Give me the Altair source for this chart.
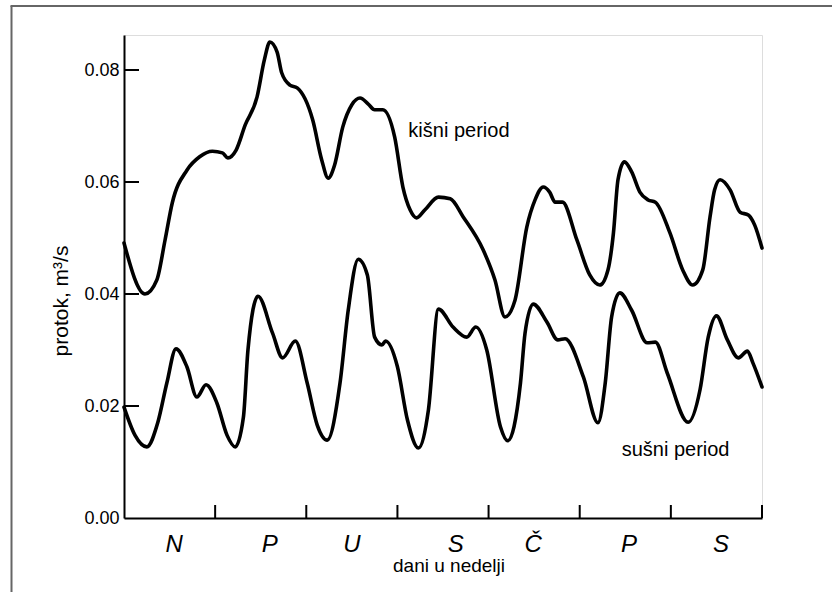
import altair as alt
import pandas as pd

# kišni period (rainy) — day position (0..7), flow m3/s
rain_x = [0.00, 0.23, 0.36, 0.45, 0.53, 0.69, 0.83, 0.97, 1.08, 1.14, 1.23, 1.33, 1.46, 1.54, 1.60,
          1.68, 1.73, 1.82, 1.90, 2.07, 2.17, 2.24, 2.31, 2.40, 2.50, 2.59, 2.68, 2.75, 2.84, 2.97,
          3.06, 3.14, 3.21, 3.30, 3.45, 3.58, 3.72, 3.94, 4.07, 4.18, 4.29, 4.42, 4.51, 4.60, 4.67,
          4.73, 4.81, 4.97, 5.11, 5.22, 5.31, 5.37, 5.42, 5.49, 5.57, 5.66, 5.75, 5.83, 5.99, 6.13,
          6.24, 6.35, 6.43, 6.48, 6.54, 6.65, 6.76, 6.85, 6.92, 7.00]
rain_y = [0.0491, 0.0400, 0.0425, 0.0496, 0.0563, 0.0621, 0.0645, 0.0655, 0.0652, 0.0643, 0.0657,
          0.0702, 0.0752, 0.0818, 0.0850, 0.0832, 0.0795, 0.0773, 0.0768, 0.0711, 0.0639, 0.0607,
          0.0630, 0.0698, 0.0738, 0.0750, 0.0739, 0.0729, 0.0729, 0.0680, 0.0591, 0.0550, 0.0536,
          0.0550, 0.0573, 0.0570, 0.0538, 0.0479, 0.0425, 0.0359, 0.0389, 0.0520, 0.0568, 0.0591,
          0.0582, 0.0564, 0.0564, 0.0496, 0.0434, 0.0416, 0.0443, 0.0509, 0.0604, 0.0636, 0.0618,
          0.0582, 0.0568, 0.0564, 0.0509, 0.0443, 0.0416, 0.0443, 0.0538, 0.0586, 0.0604, 0.0586,
          0.0546, 0.0541, 0.0523, 0.0482]

# sušni period (dry)
dry_x = [0.00, 0.12, 0.25, 0.37, 0.47, 0.57, 0.69, 0.80, 0.90, 1.02, 1.13, 1.22, 1.31, 1.36, 1.47,
         1.63, 1.74, 1.88, 2.01, 2.12, 2.23, 2.37, 2.46, 2.57, 2.67, 2.75, 2.83, 2.87, 3.00, 3.11,
         3.23, 3.34, 3.45, 3.61, 3.76, 3.86, 3.98, 4.13, 4.21, 4.35, 4.40, 4.49, 4.64, 4.76, 4.84,
         5.04, 5.20, 5.28, 5.35, 5.44, 5.57, 5.74, 5.83, 5.96, 6.19, 6.32, 6.41, 6.50, 6.62, 6.74,
         6.84, 6.90, 7.00]
dry_y = [0.0198, 0.0148, 0.0127, 0.0170, 0.0241, 0.0302, 0.0270, 0.0216, 0.0238, 0.0205, 0.0148,
         0.0127, 0.0180, 0.0300, 0.0396, 0.0330, 0.0286, 0.0316, 0.0241, 0.0166, 0.0139, 0.0241,
         0.0371, 0.0462, 0.0434, 0.0323, 0.0309, 0.0316, 0.0270, 0.0175, 0.0125, 0.0193, 0.0373,
         0.0341, 0.0323, 0.0341, 0.0300, 0.0163, 0.0138, 0.0241, 0.0330, 0.0382, 0.0350, 0.0318,
         0.0320, 0.0252, 0.0170, 0.0241, 0.0359, 0.0402, 0.0371, 0.0313, 0.0314, 0.0259, 0.0171,
         0.0229, 0.0323, 0.0361, 0.0318, 0.0286, 0.0298, 0.0277, 0.0234]

day_labels = ["N", "P", "U", "S", "Č", "P", "S"]
day_pos = [0.55, 1.60, 2.50, 3.64, 4.49, 5.54, 6.55]
x_ticks = [1, 2, 3, 4, 5, 6, 7]
y_ticks = [0.00, 0.02, 0.04, 0.06, 0.08]
y_inner_ticks = [0.02, 0.04, 0.06, 0.08]

notes = ["kišni period", "sušni period"]
note_x = [3.12, 5.46]
note_y = [0.0691, 0.0121]

FONT = "Liberation Sans"
W, H = 638, 483

df = pd.concat([
    pd.DataFrame({"dan": rain_x, "protok": rain_y, "serija": "kišni"}),
    pd.DataFrame({"dan": dry_x, "protok": dry_y, "serija": "sušni"}),
])

xs = alt.Scale(domain=[0, 7], nice=False)
ys = alt.Scale(domain=[0, 0.08625], nice=False)

lines = alt.Chart(df).mark_line(
    color="black", strokeWidth=3.6, interpolate="monotone", strokeCap="round"
).encode(
    x=alt.X("dan:Q", scale=xs, axis=alt.Axis(
        labels=False, ticks=False, grid=False, title=None,
        domainColor="black", domainWidth=2)),
    y=alt.Y("protok:Q", scale=ys, axis=alt.Axis(
        values=y_ticks, format=".2f", ticks=False, grid=False, title=None,
        domainColor="black", domainWidth=2, labelFont=FONT, labelFontSize=18,
        labelColor="black", labelPadding=5)),
    detail="serija:N",
)

xt = alt.Chart(pd.DataFrame({"t": x_ticks})).mark_rule(color="black", strokeWidth=2).encode(
    x=alt.X("t:Q", scale=xs), y=alt.value(H), y2=alt.value(H - 13))

yt = alt.Chart(pd.DataFrame({"t": y_inner_ticks})).mark_rule(color="black", strokeWidth=2).encode(
    y=alt.Y("t:Q", scale=ys), x=alt.value(0), x2=alt.value(15))

days = alt.Chart(pd.DataFrame({"d": day_pos, "l": day_labels})).mark_text(
    font=FONT, fontSize=24, fontStyle="italic", baseline="middle", align="center", color="black"
).encode(x=alt.X("d:Q", scale=xs), y=alt.value(H + 27), text="l:N")

ann = alt.Chart(pd.DataFrame({"x": note_x, "y": note_y, "t": notes})).mark_text(
    font=FONT, fontSize=20, align="left", baseline="middle", color="black"
).encode(x=alt.X("x:Q", scale=xs), y=alt.Y("y:Q", scale=ys), text="t:N")

one = pd.DataFrame({"a": [0]})
xtitle = alt.Chart(one).mark_text(
    font=FONT, fontSize=19, align="center", baseline="middle", color="black", text="dani u nedelji"
).encode(x=alt.value(W / 2 + 6), y=alt.value(531))

ytitle = alt.Chart(one).mark_text(
    font=FONT, fontSize=21, align="center", baseline="middle", color="black",
    angle=270, text="protok,  m³/s"
).encode(x=alt.value(-62), y=alt.value(266))

frame_left = alt.Chart(one).mark_rule(color="#666666", strokeWidth=2).encode(
    x=alt.value(-112.5), y=alt.value(-29), y2=alt.value(H + 80))
frame_top = alt.Chart(one).mark_rule(color="#666666", strokeWidth=2).encode(
    x=alt.value(-113.5), x2=alt.value(W + 70), y=alt.value(-29))

chart = alt.layer(
    frame_left, frame_top, lines, xt, yt, days, ann, xtitle, ytitle
).properties(
    width=W, height=H,
    autosize=alt.AutoSizeParams(type="none"),
    padding={"left": 124, "top": 35, "right": 70, "bottom": 74},
).configure_view(stroke=None).configure(background="white")

chart.save("out.html", embed_options={"renderer": "svg", "actions": False})
